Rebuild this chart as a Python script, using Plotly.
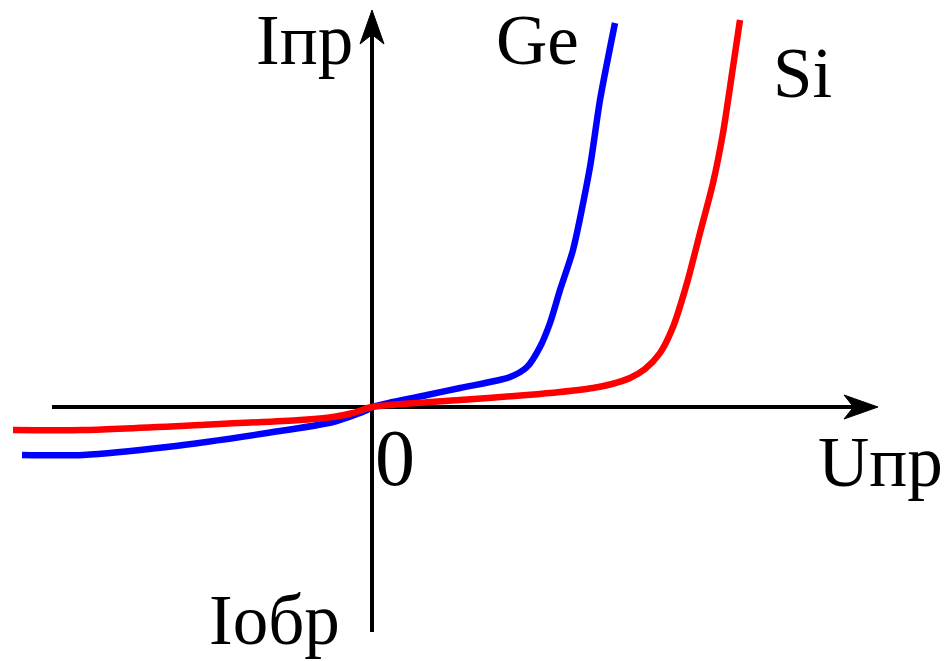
import plotly.graph_objects as go

# Ge curve (forward voltage U, current I), arbitrary schematic units
ge_u = [-350, -289, -205, -105, -39, -5, 0, 21, 55, 88, 138, 155, 168, 178, 188, 201, 218, 228, 243]
ge_i = [-48, -48, -40, -26, -15, -3, 0, 5, 12, 19, 30, 40, 60, 84, 117, 157, 240, 307, 384]

# Si curve
si_u = [-359, -289, -172, -72, -39, -19, 0, 88, 155, 188, 221, 240, 258, 273, 288, 301, 315, 328, 341, 351, 361, 368]
si_i = [-23, -23, -18, -13, -10, -6, 0, 7, 12, 15, 19, 23, 29, 38, 54, 80, 124, 174, 224, 274, 340, 387]

# axis extents
x_axis_from, x_axis_to = -320, 506
y_axis_from, y_axis_to = -225, 397
arrow_len, arrow_half = 34, 12

x_range = [-372, 577]
y_range = [-254, 407]

fig = go.Figure()
fig.add_trace(go.Scatter(x=ge_u, y=ge_i, mode="lines",
                         line=dict(color="#0000FF", width=6.5, shape="spline", smoothing=0.7),
                         name="Ge", showlegend=False, hoverinfo="skip"))
fig.add_trace(go.Scatter(x=si_u, y=si_i, mode="lines",
                         line=dict(color="#FF0000", width=6.5, shape="spline", smoothing=0.7),
                         name="Si", showlegend=False, hoverinfo="skip"))

shapes = []
# horizontal axis
shapes.append(dict(type="line", x0=x_axis_from, y0=0, x1=x_axis_to - 10, y1=0,
                   line=dict(color="black", width=4), layer="below"))
# vertical axis
shapes.append(dict(type="line", x0=0, y0=y_axis_from, x1=0, y1=y_axis_to - 10,
                   line=dict(color="black", width=4), layer="below"))
# arrowheads (stealth style)
tx = x_axis_to
shapes.append(dict(type="path",
                   path=f"M {tx},0 L {tx-arrow_len},{arrow_half} L {tx-arrow_len*0.72},0 L {tx-arrow_len},{-arrow_half} Z",
                   fillcolor="black", line=dict(color="black", width=1)))
ty = y_axis_to
shapes.append(dict(type="path",
                   path=f"M 0,{ty} L {arrow_half},{ty-arrow_len} L 0,{ty-arrow_len*0.72} L {-arrow_half},{ty-arrow_len} Z",
                   fillcolor="black", line=dict(color="black", width=1)))

family = "Liberation Serif, Times New Roman, serif"
labels = [
    ("Iпр", -68, 367, 71),
    ("Ge", 165, 367, 71),
    ("Si", 430, 334, 71),
    ("0", 23, -51, 80),
    ("Uпр", 508, -55, 71),
    ("Iобр", -98, -213, 71),
]
annotations = [dict(text=t, x=x, y=y, xref="x", yref="y", showarrow=False,
                    xanchor="center", yanchor="middle",
                    font=dict(family=family, size=s, color="black")) for t, x, y, s in labels]

fig.update_layout(
    width=949, height=661,
    margin=dict(l=0, r=0, t=0, b=0),
    paper_bgcolor="white", plot_bgcolor="white",
    xaxis=dict(range=x_range, visible=False, fixedrange=True),
    yaxis=dict(range=y_range, visible=False, fixedrange=True),
    shapes=shapes, annotations=annotations,
)
fig.write_html("out.html",
               config={"displayModeBar": False, "staticPlot": True},
               post_script="document.body.style.margin='0';document.body.style.overflow='hidden';")
